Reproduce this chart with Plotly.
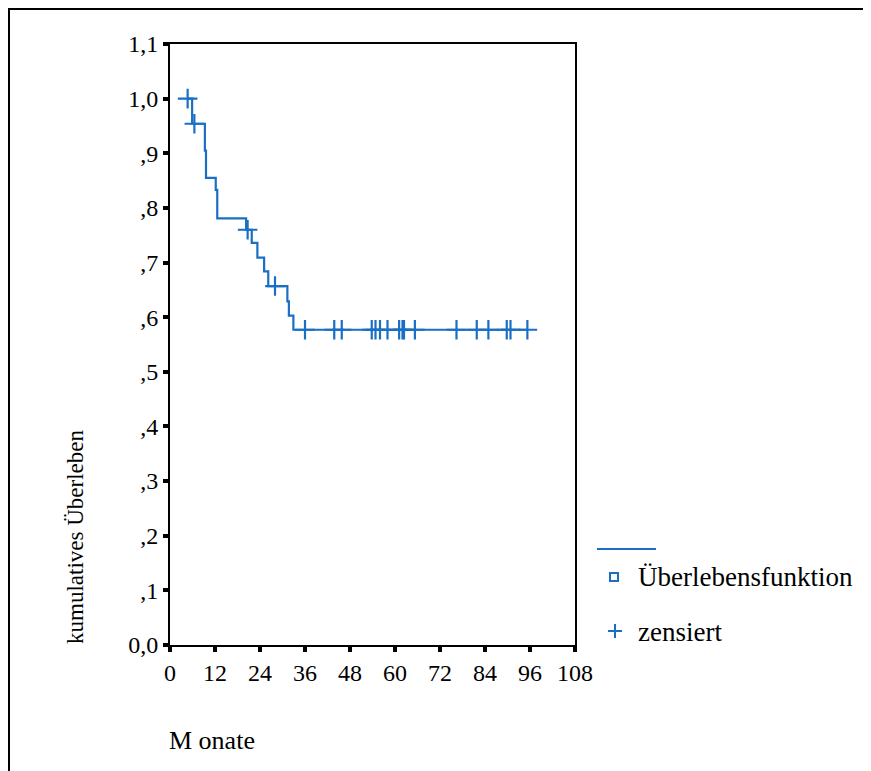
import plotly.graph_objects as go

# ---- data ----
step_times = [4.7, 5.9, 9.3, 9.6, 12.2, 12.6, 20.3, 21.8, 23.3, 25.1, 26.2, 31.3, 31.7, 32.9, 95.3]
step_surv = [1.0, 0.954, 0.905, 0.855, 0.833, 0.781, 0.760, 0.736, 0.709, 0.684, 0.657, 0.629, 0.603, 0.577, 0.577]
censored_times = [4.7, 6.5, 20.7, 28.0, 36.0, 43.8, 45.8, 53.8, 54.8, 56.0, 58.0, 61.1, 62.0,
                  62.4, 65.3, 76.4, 81.8, 84.9, 89.8, 90.8, 95.3]
x_ticks = [0, 12, 24, 36, 48, 60, 72, 84, 96, 108]
y_ticks = [0.0, 0.1, 0.2, 0.3, 0.4, 0.5, 0.6, 0.7, 0.8, 0.9, 1.0, 1.1]
y_ticklabels = ["0,0", ",1", ",2", ",3", ",4", ",5", ",6", ",7", ",8", ",9", "1,0", "1,1"]


def surv_at(t):
    s = step_surv[0]
    for tt, ss in zip(step_times, step_surv):
        if tt <= t:
            s = ss
    return s


censored_surv = [surv_at(t) for t in censored_times]

BLUE = "#1a6fc4"
FONT = "Liberation Serif"

OFF = 8  # page body margin
W, H = 871 - OFF, 771 - OFF
# plot area in page pixels
PL, PR, PT, PB = 170, 575, 44, 645
L, R, T, B = PL - OFF, PR - OFF, PT - OFF, PB - OFF


def px(x):
    return (x - PL) / (PR - PL)


def py(y):
    return (PB - y) / (PB - PT)


fig = go.Figure()
fig.add_trace(go.Scatter(x=step_times, y=step_surv, mode="lines", line_shape="hv",
                         line=dict(color=BLUE, width=2.2), showlegend=False, hoverinfo="skip"))
fig.add_trace(go.Scatter(x=censored_times, y=censored_surv, mode="markers",
                         marker=dict(symbol="cross-thin", size=14, line=dict(color=BLUE, width=2.2)),
                         showlegend=False, hoverinfo="skip"))

axis_common = dict(showline=True, linecolor="black", linewidth=2, mirror=True,
                   showgrid=False, zeroline=False, ticks="outside", ticklen=5, tickwidth=4,
                   tickcolor="black", tickfont=dict(family=FONT, size=24, color="black"))

fig.update_xaxes(range=[0, 108], tickmode="array", tickvals=x_ticks,
                 ticktext=[str(v) for v in x_ticks], **axis_common)
fig.update_yaxes(range=[0, 1.1], tickmode="array", tickvals=y_ticks,
                 ticktext=y_ticklabels, **axis_common)

shapes = []
# outer border (clipped at right and bottom)
shapes.append(dict(type="rect", xref="paper", yref="paper", x0=px(8.5), x1=px(950), y0=py(8.5), y1=py(900),
                   line=dict(color="black", width=3), fillcolor="rgba(0,0,0,0)", layer="below"))
# legend line
shapes.append(dict(type="line", xref="paper", yref="paper", x0=px(597), x1=px(656), y0=py(549), y1=py(549),
                   line=dict(color=BLUE, width=2)))
# legend square
shapes.append(dict(type="rect", xref="paper", yref="paper", x0=px(610), x1=px(618), y0=py(573), y1=py(581),
                   line=dict(color=BLUE, width=2), fillcolor="rgba(0,0,0,0)"))
# legend plus
shapes.append(dict(type="line", xref="paper", yref="paper", x0=px(608), x1=px(622), y0=py(631), y1=py(631),
                   line=dict(color=BLUE, width=2)))
shapes.append(dict(type="line", xref="paper", yref="paper", x0=px(615), x1=px(615), y0=py(624), y1=py(638),
                   line=dict(color=BLUE, width=2)))

annotations = [
    dict(text="Überlebensfunktion", xref="paper", yref="paper", x=px(636), y=py(577),
         xanchor="left", yanchor="middle", showarrow=False, font=dict(family=FONT, size=27, color="black")),
    dict(text="zensiert", xref="paper", yref="paper", x=px(636), y=py(632),
         xanchor="left", yanchor="middle", showarrow=False, font=dict(family=FONT, size=27, color="black")),
    dict(text="kumulatives Überleben", xref="paper", yref="paper", x=px(75), y=py(537),
         xanchor="center", yanchor="middle", textangle=-90, showarrow=False,
         font=dict(family=FONT, size=23, color="black")),
    dict(text="M onate", xref="paper", yref="paper", x=px(167), y=py(740),
         xanchor="left", yanchor="middle", showarrow=False, font=dict(family=FONT, size=26, color="black")),
]

fig.update_layout(width=W, height=H, margin=dict(l=L, r=W - R, t=T, b=H - B, pad=0),
                  paper_bgcolor="white", plot_bgcolor="white", shapes=shapes, annotations=annotations,
                  showlegend=False)

fig.write_html("out.html")
